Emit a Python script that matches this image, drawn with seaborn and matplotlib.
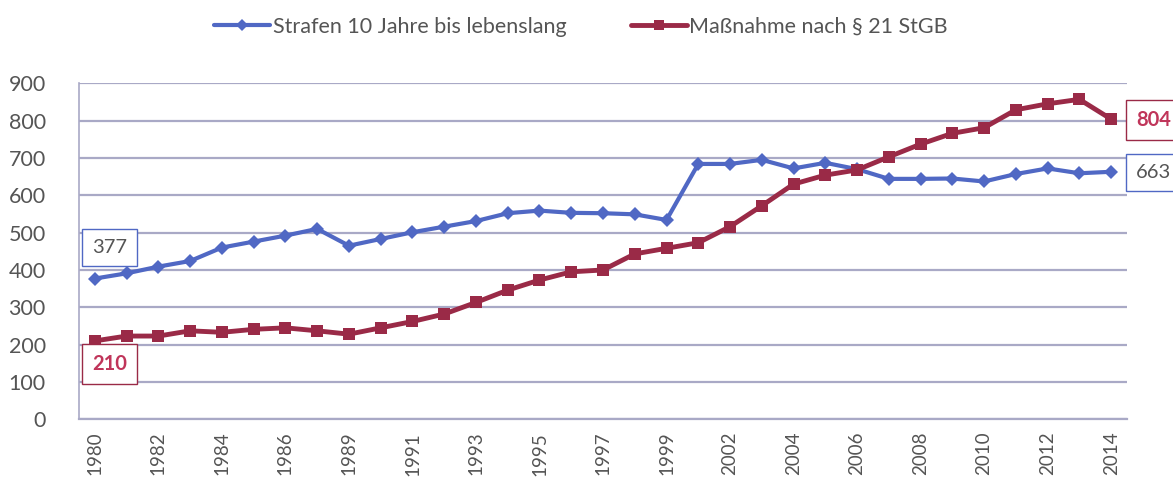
import matplotlib
matplotlib.use("Agg")
import matplotlib.pyplot as plt
import seaborn as sns
import pandas as pd

years = [str(y) for y in list(range(1980, 1988)) + list(range(1989, 2001)) + list(range(2002, 2015))]
strafen = [377, 391, 409, 424, 460, 476, 492, 510, 465, 483, 501, 516, 531, 552, 559, 553, 552, 549, 534,
           684, 684, 695, 672, 687, 670, 644, 644, 645, 637, 657, 672, 659, 663]
massnahme = [210, 223, 223, 237, 233, 241, 245, 237, 228, 245, 262, 282, 313, 346, 373, 395, 400, 443, 458,
             473, 516, 572, 630, 654, 668, 703, 737, 766, 781, 829, 845, 857, 804]
series_names = ["Strafen 10 Jahre bis lebenslang", "Maßnahme nach § 21 StGB"]

blue = "#5068C4"
red = "#9A2A47"
grid_c = "#A9A9C6"
text_c = "#555555"

sns.set_theme(style="white")
plt.rcParams["font.family"] = ["Lato", "DejaVu Sans"]

df = pd.DataFrame({"idx": list(range(len(years))) * 2,
                   "value": strafen + massnahme,
                   "series": [series_names[0]] * len(years) + [series_names[1]] * len(years)})

fig = plt.figure(figsize=(11.73, 4.86), dpi=100)
ax = fig.add_axes([79 / 1173, 1 - 419.3 / 486, (1127 - 79) / 1173, (419.3 - 83.3) / 486])

sns.lineplot(data=df, x="idx", y="value", hue="series", style="series",
             palette={series_names[0]: blue, series_names[1]: red},
             markers={series_names[0]: "D", series_names[1]: "s"},
             dashes=False, linewidth=3, markersize=7, markeredgewidth=0,
             ax=ax, legend=False)
for line in ax.lines:
    if line.get_color() == red:
        line.set_linewidth(3.5)
        line.set_markersize(8)

ax.set_xlim(-0.5, len(years) - 0.5)
ax.set_ylim(0, 900)
ax.set_yticks(range(0, 901, 100))
ax.yaxis.grid(True, color=grid_c, linewidth=1.6)
ax.set_axisbelow(True)
ax.set_xticks(range(0, len(years), 2))
ax.set_xticklabels(years[::2], rotation=90, fontsize=13.5, color=text_c)
ax.tick_params(axis="y", labelsize=15.5, colors=text_c, pad=24, length=0)
ax.tick_params(axis="x", pad=9, length=0)
ax.set_xlabel("")
ax.set_ylabel("")
for s in ["top", "right"]:
    ax.spines[s].set_visible(False)
ax.spines["left"].set_color(grid_c)
ax.spines["bottom"].set_color(grid_c)
ax.spines["left"].set_linewidth(1.2)
ax.spines["bottom"].set_linewidth(1.6)

# value boxes
box_kw = dict(boxstyle="square,pad=0.5", fc="white", lw=1.0)
ax.text(-0.1, 461, "377", ha="left", va="center", fontsize=14.5, color=text_c,
        bbox=dict(ec=blue, **box_kw), clip_on=False)
ax.text(-0.08, 149, "210", ha="left", va="center", fontsize=14.5, color="#C0355A", fontweight="bold",
        bbox=dict(ec=red, **box_kw), clip_on=False)
yt = ax.get_yaxis_transform()
ax.text(1.0085, 802, "804", ha="left", va="center", fontsize=14.5, color="#C0355A", fontweight="bold",
        transform=yt, bbox=dict(ec=red, **box_kw), clip_on=False)
ax.text(1.0085, 662, "663", ha="left", va="center", fontsize=14.5, color=text_c,
        transform=yt, bbox=dict(ec=blue, **box_kw), clip_on=False)

# legend
from matplotlib.lines import Line2D
handles = [Line2D([], [], color=blue, lw=3, marker="D", markersize=6, markeredgewidth=0),
           Line2D([], [], color=red, lw=3.5, marker="s", markersize=7, markeredgewidth=0)]
fig.legend(handles, series_names, loc="center", bbox_to_anchor=(581 / 1173, 1 - 27 / 486),
           ncol=2, frameon=False, fontsize=15.5, handlelength=2.6, handletextpad=0.1,
           columnspacing=3.0, labelcolor=text_c)

fig.savefig("out.png", dpi=100, facecolor="white")
